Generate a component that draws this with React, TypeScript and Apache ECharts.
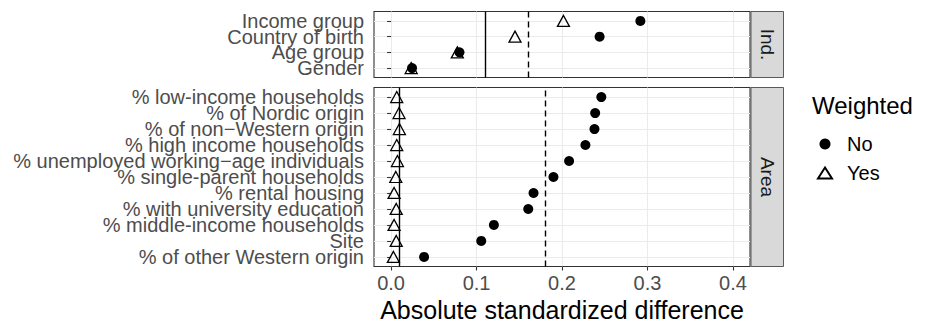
import React, { useEffect, useRef } from "react";
import * as echarts from "echarts";

const indCategories = ["Income group", "Country of birth", "Age group", "Gender"];
const indNo = [0.2917, 0.244, 0.080, 0.0245];
const indYes = [0.2017, 0.145, 0.0775, 0.0235];

const areaCategories = [
  "% low-income households",
  "% of Nordic origin",
  "% of non\u2212Western origin",
  "% high income households",
  "% unemployed working\u2212age individuals",
  "% single-parent households",
  "% rental housing",
  "% with university education",
  "% middle-income households",
  "Site",
  "% of other Western origin",
];
const areaNo = [0.246, 0.2388, 0.238, 0.2274, 0.2083, 0.190, 0.1667, 0.1605, 0.1203, 0.1055, 0.0386];
const areaYes = [0.0066, 0.0093, 0.0097, 0.0066, 0.0074, 0.0055, 0.0035, 0.006, 0.0035, 0.006, 0.0027];

const xTicks = [0, 0.1, 0.2, 0.3, 0.4];
const facetLabels = ["Ind.", "Area"];
const legendTitle = "Weighted";
const legendNames = ["No", "Yes"];
const xTitle = "Absolute standardized difference";

const FONT = "Liberation Sans, Arial, Helvetica, sans-serif";

const mean = (a: number[]) => a.reduce((s, v) => s + v, 0) / a.length;

export default function App() {
  const ref = useRef<HTMLDivElement>(null);
  useEffect(() => {
    if (!ref.current) return;
    const chart = echarts.init(ref.current, undefined, { renderer: "svg" });

    const W = 932;
    const L = 374;
    const R = 750;
    const panels = [
      { top: 11.5, bottom: 77.5, cats: indCategories, no: indNo, yes: indYes },
      { top: 87.5, bottom: 266.5, cats: areaCategories, no: areaNo, yes: areaYes },
    ];

    const grids: any[] = [];
    const xAxes: any[] = [];
    const yAxes: any[] = [];
    const series: any[] = [];
    const graphics: any[] = [];

    panels.forEach((p, i) => {
      const n = p.cats.length;
      grids.push({
        left: L,
        right: W - R,
        top: p.top,
        height: p.bottom - p.top,
        show: true,
        borderColor: "#333333",
        borderWidth: 1.1,
        backgroundColor: "transparent",
        containLabel: false,
        outerBoundsMode: "none",
      });
      const isBottom = i === panels.length - 1;
      xAxes.push({
        type: "value",
        gridIndex: i,
        min: -0.02,
        max: 0.42,
        axisLine: { show: false },
        axisTick: {
          show: isBottom,
          inside: false,
          length: 4,
          lineStyle: { color: "#333333", width: 1.1 },
          customValues: xTicks,
        },
        axisLabel: {
          show: isBottom,
          customValues: xTicks,
          formatter: (v: number) => v.toFixed(1),
          fontSize: 20,
          color: "#4d4d4d",
          fontFamily: FONT,
          margin: 6,
          showMinLabel: true,
          showMaxLabel: true,
          hideOverlap: false,
        },
        splitLine: { show: true, lineStyle: { color: "#ebebeb", width: 1.1 } },
        name: isBottom ? xTitle : "",
        nameLocation: "middle",
        nameGap: 30,
        nameTextStyle: { fontSize: 25, color: "#000000", fontFamily: FONT },
      });
      const yVals = p.cats.map((_, k) => n - k);
      const labelFmt = (v: number) => p.cats[n - Math.round(v)] ?? "";
      const labelBase = {
        show: true,
        formatter: labelFmt,
        fontSize: 20,
        color: "#4d4d4d",
        fontFamily: FONT,
        margin: 10,
        showMinLabel: true,
        showMaxLabel: true,
        hideOverlap: false,
      };
      // two stacked axes share the panel: one labels the odd rows, the other the even rows,
      // so neighbouring labels (which overlap slightly, as in the reference) are never dropped
      const yOdd = yVals.filter((_, k) => k % 2 === 0);
      const yEven = yVals.filter((_, k) => k % 2 === 1);
      yAxes.push({
        type: "value",
        gridIndex: i,
        position: "left",
        min: 0.4,
        max: n + 0.6,
        axisLine: { show: false },
        axisTick: {
          show: true,
          inside: false,
          length: 4,
          lineStyle: { color: "#333333", width: 1.1 },
          customValues: yVals,
        },
        axisLabel: { ...labelBase, customValues: yOdd },
        splitLine: { show: true, lineStyle: { color: "#ebebeb", width: 1.1 } },
      });
      yAxes.push({
        type: "value",
        gridIndex: i,
        position: "left",
        offset: 0,
        min: 0.4,
        max: n + 0.6,
        axisLine: { show: false },
        axisTick: { show: false, customValues: yEven },
        axisLabel: { ...labelBase, customValues: yEven },
        splitLine: { show: false },
      });
      const yIdx = yAxes.length - 2;
      series.push({
        name: legendNames[0],
        type: "scatter",
        xAxisIndex: i,
        yAxisIndex: yIdx,
        symbol: "circle",
        symbolSize: 10,
        itemStyle: { color: "#000000", opacity: 1 },
        data: p.no.map((v, k) => [v, n - k]),
        z: 3,
        markLine: {
          silent: true,
          symbol: "none",
          label: { show: false },
          lineStyle: { color: "#000000", type: [6, 4], width: 1.4 },
          data: [{ xAxis: mean(p.no) }],
        },
      });
      series.push({
        name: legendNames[1],
        type: "scatter",
        xAxisIndex: i,
        yAxisIndex: yIdx,
        symbol: "triangle",
        symbolSize: [12, 11],
        itemStyle: { color: "rgba(0,0,0,0)", borderColor: "#000000", borderWidth: 1.3, opacity: 1 },
        data: p.yes.map((v, k) => [v, n - k]),
        z: 4,
        markLine: {
          silent: true,
          symbol: "none",
          label: { show: false },
          lineStyle: { color: "#000000", type: "solid", width: 1.4 },
          data: [{ xAxis: mean(p.yes) }],
        },
      });
      graphics.push({
        type: "rect",
        shape: { x: 751, y: p.top, width: 32.5, height: p.bottom - p.top },
        style: { fill: "#d9d9d9", stroke: "#5a5a5a", lineWidth: 1 },
        z: 10,
      });
      graphics.push({
        type: "text",
        x: 767,
        y: (p.top + p.bottom) / 2,
        rotation: -Math.PI / 2,
        style: {
          text: facetLabels[i],
          fontSize: 19,
          fill: "#1a1a1a",
          fontFamily: FONT,
          align: "center",
          verticalAlign: "middle",
        },
        z: 11,
      });
    });

    graphics.push({
      type: "text",
      x: 812,
      y: 105,
      style: {
        text: legendTitle,
        fontSize: 24,
        fill: "#000000",
        fontFamily: FONT,
        align: "left",
        verticalAlign: "middle",
      },
    });

    chart.setOption({
      animation: false,
      backgroundColor: "#ffffff",
      grid: grids,
      xAxis: xAxes,
      yAxis: yAxes,
      series,
      legend: {
        orient: "vertical",
        left: 812,
        top: 129,
        itemWidth: 14,
        itemHeight: 11,
        itemGap: 9,
        data: [
          { name: legendNames[0], icon: "circle" },
          { name: legendNames[1], icon: "triangle" },
        ],
        textStyle: { fontSize: 20, color: "#000000", fontFamily: FONT, padding: [0, 0, 0, 10] },
        selectedMode: false,
      },
      graphic: graphics,
    });
    return () => chart.dispose();
  }, []);
  return (
    <div
      ref={ref}
      style={{ position: "fixed", left: 0, top: 0, width: 932, height: 322, background: "#fff" }}
    />
  );
}
